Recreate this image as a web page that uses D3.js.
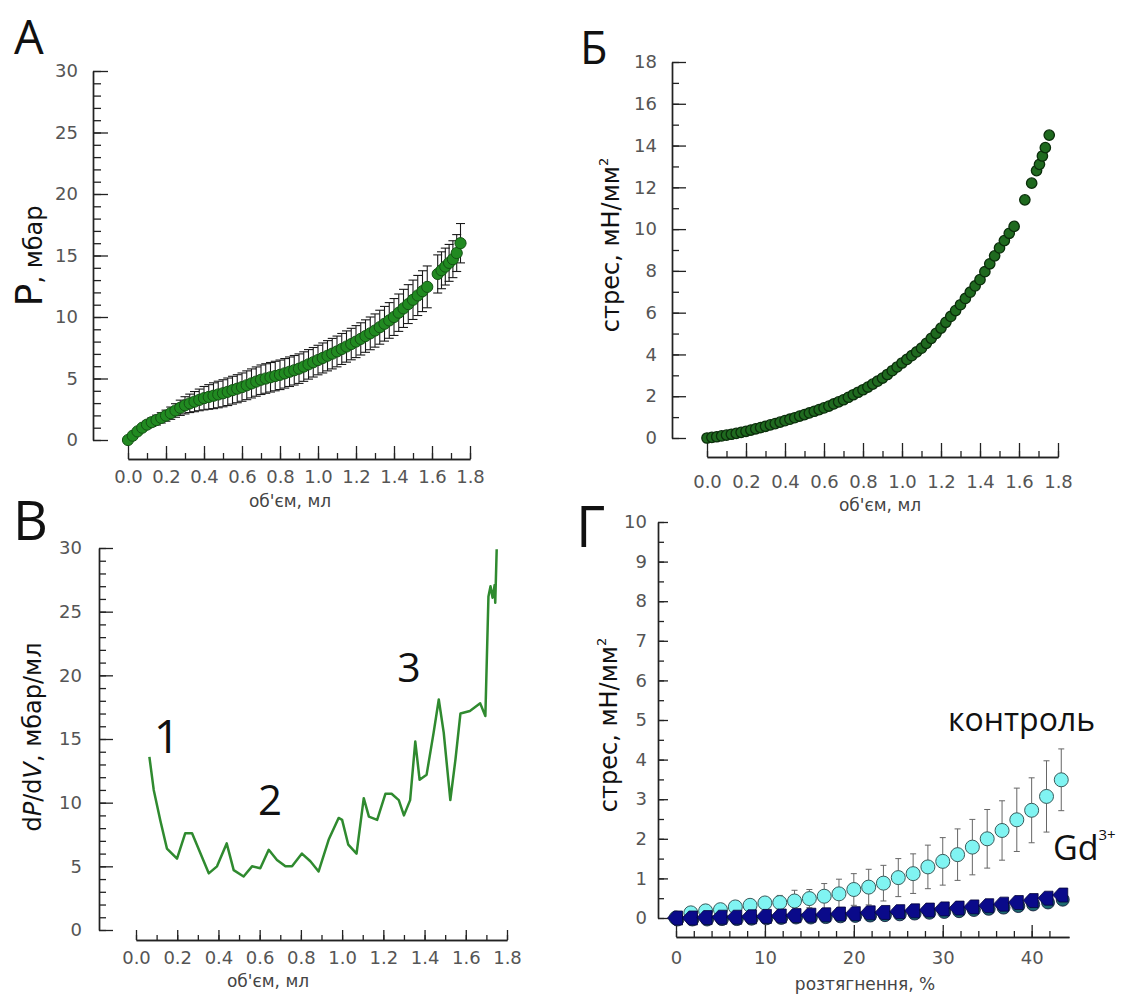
<!DOCTYPE html>
<html><head><meta charset="utf-8">
<script src="https://cdn.jsdelivr.net/npm/d3@7"></script>
<style>body{margin:0;background:#fff}</style>
</head><body>
<svg id="c" width="1123" height="999"></svg>
<script>
// ---------- DATA ----------
// Panel A: pressure vs volume (mean ± error)
const volA = [0,0.025,0.05,0.075,0.1,0.125,0.15,0.175,0.2,0.225,0.25,0.275,0.3,0.325,0.35,0.375,0.4,0.425,0.45,0.475,0.5,0.525,0.55,0.575,0.6,0.625,0.65,0.675,0.7,0.725,0.75,0.775,0.8,0.825,0.85,0.875,0.9,0.925,0.95,0.975,1.0,1.025,1.05,1.075,1.1,1.125,1.15,1.175,1.2,1.225,1.25,1.275,1.3,1.325,1.35,1.375,1.4,1.425,1.45,1.475,1.5,1.525,1.55,1.575,1.63,1.65,1.67,1.69,1.71,1.73,1.75];
const pressA = [0,0.35,0.70,1.00,1.25,1.45,1.62,1.80,1.98,2.18,2.40,2.62,2.82,2.98,3.12,3.26,3.40,3.50,3.60,3.70,3.80,3.92,4.05,4.17,4.30,4.45,4.60,4.75,4.90,5.00,5.10,5.20,5.30,5.42,5.55,5.67,5.80,5.97,6.15,6.32,6.50,6.67,6.85,7.02,7.20,7.40,7.60,7.80,8.00,8.22,8.45,8.67,8.90,9.17,9.45,9.72,10.00,10.35,10.70,11.05,11.40,11.75,12.10,12.45,13.5,13.8,14.1,14.4,14.7,15.2,16.0];
const errA = [0,0.1,0.2,0.25,0.3,0.35,0.4,0.42,0.45,0.5,0.55,0.62,0.7,0.75,0.82,0.88,0.95,1.0,1.05,1.08,1.1,1.12,1.13,1.14,1.15,1.17,1.18,1.19,1.2,1.2,1.2,1.2,1.2,1.2,1.2,1.2,1.2,1.2,1.2,1.2,1.2,1.22,1.23,1.24,1.25,1.26,1.27,1.28,1.3,1.31,1.32,1.33,1.35,1.38,1.41,1.45,1.5,1.52,1.55,1.58,1.6,1.63,1.66,1.7,1.55,1.5,1.5,1.5,1.5,1.5,1.6];
const ticksAy = [0,5,10,15,20,25,30];
const ticksVol = [0,0.2,0.4,0.6,0.8,1.0,1.2,1.4,1.6,1.8];

// Panel Б: stress vs volume
const volB = [0,0.025,0.05,0.075,0.1,0.125,0.15,0.175,0.2,0.225,0.25,0.275,0.3,0.325,0.35,0.375,0.4,0.425,0.45,0.475,0.5,0.525,0.55,0.575,0.6,0.625,0.65,0.675,0.7,0.725,0.75,0.775,0.8,0.825,0.85,0.875,0.9,0.925,0.95,0.975,1.0,1.025,1.05,1.075,1.1,1.125,1.15,1.175,1.2,1.225,1.25,1.275,1.3,1.325,1.35,1.375,1.4,1.425,1.45,1.475,1.5,1.525,1.55,1.575,1.63,1.665,1.69,1.705,1.72,1.735,1.755];
const stressB = [0,0.03,0.06,0.10,0.14,0.18,0.22,0.27,0.32,0.38,0.44,0.50,0.56,0.63,0.69,0.76,0.83,0.90,0.97,1.05,1.12,1.20,1.28,1.36,1.44,1.53,1.63,1.73,1.83,1.95,2.07,2.19,2.31,2.44,2.58,2.72,2.87,3.04,3.22,3.40,3.59,3.76,3.94,4.12,4.30,4.53,4.77,5.01,5.26,5.54,5.82,6.10,6.38,6.68,6.98,7.28,7.58,7.96,8.34,8.72,9.10,9.45,9.80,10.13,11.4,12.2,12.8,13.1,13.5,13.9,14.5];
const ticksBy = [0,2,4,6,8,10,12,14,16,18];

// Panel В: dP/dV vs volume
const volV = [0.065,0.086,0.118,0.15,0.199,0.239,0.272,0.353,0.393,0.44,0.474,0.522,0.563,0.603,0.644,0.684,0.725,0.757,0.805,0.846,0.886,0.935,0.983,1.0,1.03,1.07,1.105,1.13,1.17,1.21,1.24,1.275,1.30,1.33,1.355,1.376,1.41,1.444,1.469,1.493,1.525,1.55,1.574,1.62,1.67,1.695,1.71,1.72,1.73,1.74,1.743,1.75];
const dPdV = [13.6,11.0,8.6,6.4,5.6,7.6,7.6,4.45,5.0,6.8,4.7,4.2,5.0,4.85,6.3,5.5,5.0,5.0,6.0,5.4,4.6,7.1,8.8,8.65,6.7,6.0,10.35,8.9,8.65,10.7,10.7,10.2,9.0,10.2,14.8,11.8,12.2,15.5,18.1,15.5,10.2,13.4,17.0,17.2,17.8,16.8,26.2,27.0,26.1,27.1,25.7,29.9];
const ticksVy = [0,5,10,15,20,25,30];
const regionLabels = ["1","2","3"];

// Panel Г: stress vs stretch, control and Gd3+
const strainG = [0,1.67,3.33,5,6.67,8.33,10,11.67,13.33,15,16.67,18.33,20,21.67,23.33,25,26.67,28.33,30,31.67,33.33,35,36.67,38.33,40,41.67,43.33];
const ctrlG = [0,0.13,0.18,0.21,0.28,0.32,0.38,0.39,0.43,0.49,0.55,0.61,0.72,0.78,0.88,1.02,1.12,1.29,1.43,1.60,1.79,2.0,2.21,2.48,2.72,3.07,3.49];
const ctrlErrG = [0,0.03,0.04,0.05,0.06,0.08,0.11,0.18,0.27,0.23,0.32,0.37,0.4,0.45,0.45,0.48,0.5,0.55,0.6,0.65,0.7,0.74,0.75,0.8,0.82,0.9,0.78];
const gdG = [0,0,0.01,0.02,0.02,0.03,0.04,0.05,0.06,0.07,0.08,0.1,0.11,0.13,0.14,0.16,0.18,0.2,0.23,0.25,0.28,0.31,0.35,0.39,0.44,0.5,0.58];
const gd2G = [0,0,0,0.01,0.01,0.02,0.03,0.04,0.05,0.05,0.06,0.08,0.09,0.1,0.11,0.13,0.15,0.17,0.19,0.21,0.24,0.27,0.3,0.34,0.38,0.43,0.5];
const ticksGy = [0,1,2,3,4,5,6,7,8,9,10];
const ticksGx = [0,10,20,30,40];

// ---------- DRAWING ----------
const svg = d3.select('#c');
const TF = 'DejaVu Sans';
const LF = 'Open Sans';

function styleAxis(g, fontSize){
  g.selectAll('path.domain').attr('stroke','#222').attr('stroke-width',1.4);
  g.selectAll('.tick line').attr('stroke','#222').attr('stroke-width',1.3);
  g.selectAll('.tick text').attr('font-family',TF).attr('font-size',fontSize||18).attr('fill','#555');
}
function yAxis(x, scale, major, minor, majLen, minLen, pad){
  const g1 = svg.append('g').attr('transform',`translate(${x},0)`)
    .call(d3.axisLeft(scale).tickValues(minor).tickSize(-minLen).tickSizeOuter(0).tickFormat(''));
  styleAxis(g1);
  const g2 = svg.append('g').attr('transform',`translate(${x},0)`)
    .call(d3.axisLeft(scale).tickValues(major).tickSize(-majLen).tickSizeOuter(0).tickPadding(pad).tickFormat(d3.format('d')));
  styleAxis(g2);
}
function xAxis(y, scale, major, minor, majLen, minLen, pad, fmt){
  const g1 = svg.append('g').attr('transform',`translate(0,${y})`)
    .call(d3.axisBottom(scale).tickValues(minor).tickSize(-minLen).tickSizeOuter(0).tickFormat(''));
  styleAxis(g1);
  const g2 = svg.append('g').attr('transform',`translate(0,${y})`)
    .call(d3.axisBottom(scale).tickValues(major).tickSize(-majLen).tickSizeOuter(0).tickPadding(pad).tickFormat(fmt));
  styleAxis(g2);
}
function panelLetter(t,x,y,size){
  svg.append('text').attr('x',x).attr('y',y).attr('font-family',LF).attr('font-size',size).attr('fill','#111').text(t);
}
function xLabel(t,x,y){
  svg.append('text').attr('x',x).attr('y',y).attr('text-anchor','middle').attr('font-family',TF).attr('font-size',17).attr('fill','#444').text(t);
}
const volMinor = d3.range(0,1.81,0.1).map(v=>+v.toFixed(2));
const f1 = d3.format('.1f');

// ===== Panel A =====
const xA = d3.scaleLinear().domain([0,1.8]).range([128,470]);
const yA = d3.scaleLinear().domain([0,30]).range([440,71]);
yAxis(93, yA, ticksAy, d3.range(0,31,1), 15, 8, 15);
xAxis(459, xA, ticksVol, volMinor, 13, 6, 11, f1);
panelLetter('A',14,54,47);
xLabel("об'єм, мл",290,507);
{
  const t = svg.append('text').attr('transform','translate(42,256) rotate(-90)').attr('text-anchor','middle')
    .attr('font-family',TF).attr('fill','#111');
  t.append('tspan').attr('font-size',38).text('P');
  t.append('tspan').attr('font-size',24).text(', мбар');
}
const eA = svg.append('g').attr('stroke','#1a1a1a').attr('stroke-width',1.1).attr('fill','none');
volA.forEach((v,i)=>{
  if(errA[i]<=0) return;
  const x = xA(v), y1 = yA(pressA[i]-errA[i]), y2 = yA(pressA[i]+errA[i]);
  eA.append('line').attr('x1',x).attr('x2',x).attr('y1',y1).attr('y2',y2);
  eA.append('line').attr('x1',x-4.5).attr('x2',x+4.5).attr('y1',y1).attr('y2',y1);
  eA.append('line').attr('x1',x-4.5).attr('x2',x+4.5).attr('y1',y2).attr('y2',y2);
});
svg.append('g').selectAll('circle').data(volA).join('circle')
  .attr('cx',d=>xA(d)).attr('cy',(d,i)=>yA(pressA[i])).attr('r',5.6)
  .attr('fill','#218a21').attr('stroke','#145214').attr('stroke-width',1);

// ===== Panel Б =====
const xB = d3.scaleLinear().domain([0,1.8]).range([707,1058]);
const yB = d3.scaleLinear().domain([0,18]).range([438,62]);
yAxis(672, yB, ticksBy, d3.range(0,19,1), 14, 7, 15);
xAxis(457, xB, ticksVol, volMinor, 14, 6, 18, f1);
panelLetter('Б',580,64,45);
xLabel("об'єм, мл",880,511);
{
  const t = svg.append('text').attr('transform','translate(619,245) rotate(-90)').attr('text-anchor','middle')
    .attr('font-family',TF).attr('font-size',24).attr('fill','#111');
  t.append('tspan').text('стрес, мН/мм');
  t.append('tspan').attr('font-size',13).attr('dy',-11).text('2');
}
svg.append('g').selectAll('circle').data(volB).join('circle')
  .attr('cx',d=>xB(d)).attr('cy',(d,i)=>yB(stressB[i])).attr('r',5.2)
  .attr('fill','#1f6a1f').attr('stroke','#0b2e0b').attr('stroke-width',1.3);

// ===== Panel В =====
const xV = d3.scaleLinear().domain([0,1.8]).range([136,507]);
const yV = d3.scaleLinear().domain([0,30]).range([930,548]);
yAxis(99, yV, ticksVy, d3.range(0,31,1), 14, 7, 17);
xAxis(940, xV, ticksVol, volMinor, 10, 5, 11, f1);
panelLetter('B',13,540,54);
xLabel("об'єм, мл",268,987);
{
  const t = svg.append('text').attr('transform','translate(41,737) rotate(-90)').attr('text-anchor','middle')
    .attr('font-family',TF).attr('font-size',24).attr('fill','#111');
  t.append('tspan').text('d');
  t.append('tspan').attr('font-style','italic').text('P');
  t.append('tspan').text('/d');
  t.append('tspan').attr('font-style','italic').text('V');
  t.append('tspan').text(', мбар/мл');
}
const lineV = d3.line().x((d,i)=>xV(volV[i])).y(d=>yV(d));
svg.append('path').attr('d',lineV(dPdV)).attr('fill','none').attr('stroke','#2f8a2f').attr('stroke-width',2.5).attr('stroke-linejoin','round');
const annV = [{t:regionLabels[0],x:167,y:753,s:46},{t:regionLabels[1],x:270,y:815,s:42},{t:regionLabels[2],x:409,y:682,s:41}];
annV.forEach(a=>svg.append('text').attr('x',a.x).attr('y',a.y).attr('text-anchor','middle').attr('font-family',LF).attr('font-size',a.s).attr('fill','#111').text(a.t));

// ===== Panel Г =====
const xG = d3.scaleLinear().domain([0,44.2]).range([676,1069]);
const yG = d3.scaleLinear().domain([0,10]).range([918,522]);
yAxis(658, yG, ticksGy, d3.range(0,10.01,0.5), 10, 6, 11);
xAxis(937, xG, ticksGx, d3.range(0,44,2), 12, 6, 14, d3.format('d'));
panelLetter('Г',576,547,56);
xLabel('розтягнення,  %',865,990);
{
  const t = svg.append('text').attr('transform','translate(617,725) rotate(-90)').attr('text-anchor','middle')
    .attr('font-family',TF).attr('font-size',24).attr('fill','#111');
  t.append('tspan').text('стрес, мН/мм');
  t.append('tspan').attr('font-size',13).attr('dy',-11).text('2');
}
const eG = svg.append('g').attr('stroke','#666').attr('stroke-width',1).attr('fill','none');
strainG.forEach((s,i)=>{
  if(ctrlErrG[i]<=0.05) return;
  const x = xG(s), y1 = yG(ctrlG[i]-ctrlErrG[i]), y2 = yG(ctrlG[i]+ctrlErrG[i]);
  eG.append('line').attr('x1',x).attr('x2',x).attr('y1',y1).attr('y2',y2);
  eG.append('line').attr('x1',x-3).attr('x2',x+3).attr('y1',y1).attr('y2',y1);
  eG.append('line').attr('x1',x-3).attr('x2',x+3).attr('y1',y2).attr('y2',y2);
});
svg.append('g').selectAll('circle').data(strainG).join('circle')
  .attr('cx',d=>xG(d)).attr('cy',(d,i)=>yG(ctrlG[i])).attr('r',7)
  .attr('fill','#80f4f2').attr('stroke','#3a5a5a').attr('stroke-width',1);
svg.append('g').selectAll('circle').data(strainG).join('circle')
  .attr('cx',d=>xG(d)+1.5).attr('cy',(d,i)=>yG(gd2G[i])+1.5).attr('r',6.5)
  .attr('fill','#1d6a70').attr('stroke','#113').attr('stroke-width',0.8);
svg.append('g').selectAll('path').data(strainG).join('path')
  .attr('transform',(d,i)=>`translate(${xG(d)},${yG(gdG[i])})`)
  .attr('d','M-8.5,0 L-2,-7 L6.5,-7 L6.5,7 L-2,7 Z')
  .attr('fill','#0a0a8a').attr('stroke','#05053a').attr('stroke-width',0.8);
svg.append('text').attr('x',948).attr('y',731).attr('font-family',LF).attr('font-size',32).attr('fill','#111').text('контроль');
{
  const t = svg.append('text').attr('x',1053).attr('y',860).attr('font-family',LF).attr('font-size',34).attr('fill','#111');
  t.append('tspan').text('Gd');
  t.append('tspan').attr('font-size',15).attr('dy',-20).text('3+');
}
</script>
</body></html>
